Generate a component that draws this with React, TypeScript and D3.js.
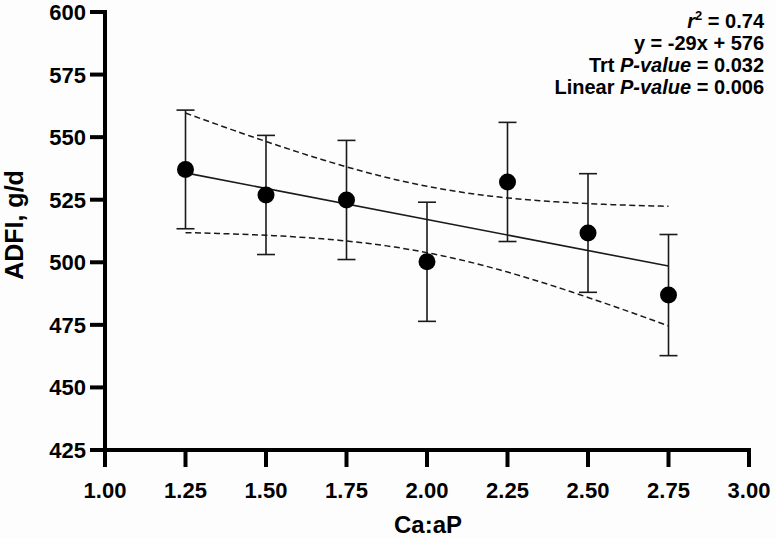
import React from "react";
import * as d3 from "d3";

const ratios = [1.25, 1.5, 1.75, 2.0, 2.25, 2.5, 2.75];
const adfiMean = [537.1, 526.9, 524.9, 500.2, 532.1, 511.7, 486.9];
const adfiSem = [23.7, 23.8, 23.8, 23.8, 23.8, 23.7, 24.2];
const xTicks = [1.0, 1.25, 1.5, 1.75, 2.0, 2.25, 2.5, 2.75, 3.0];
const yTicks = [425, 450, 475, 500, 525, 550, 575, 600];
const tCrit = 2.571; // t(0.975, df = 5)

const W = 776;
const H = 539;
const FONT = "'Liberation Sans', Arial, Helvetica, sans-serif";

export default function App() {
  const x = d3.scaleLinear().domain([1.0, 3.0]).range([105, 749]);
  const y = d3.scaleLinear().domain([425, 600]).range([450, 12]);

  // least-squares fit and 95% confidence band
  const n = ratios.length;
  const mx = d3.mean(ratios) as number;
  const my = d3.mean(adfiMean) as number;
  const sxx = d3.sum(ratios, (v) => (v - mx) ** 2);
  const sxy = d3.sum(ratios.map((v, i) => (v - mx) * (adfiMean[i] - my)));
  const slope = sxy / sxx;
  const icpt = my - slope * mx;
  const sse = d3.sum(ratios.map((v, i) => (adfiMean[i] - (icpt + slope * v)) ** 2));
  const s = Math.sqrt(sse / (n - 2));
  const xs = d3.range(0, 61).map((i) => ratios[0] + (i / 60) * (ratios[n - 1] - ratios[0]));
  const band = xs.map((v) => {
    const f = icpt + slope * v;
    const hw = tCrit * s * Math.sqrt(1 / n + (v - mx) ** 2 / sxx);
    return { v, f, lo: f - hw, hi: f + hw };
  });
  const lineHi = d3.line<any>().x((d) => x(d.v)).y((d) => y(d.hi));
  const lineLo = d3.line<any>().x((d) => x(d.v)).y((d) => y(d.lo));
  const x0 = ratios[0];
  const x1 = ratios[n - 1];

  const ink = "#1a1a1a";

  return (
    <svg
      width={W}
      height={H}
      style={{ position: "absolute", left: 0, top: 0, background: "#fdfdfd" }}
      fontFamily={FONT}
    >
      {/* confidence band */}
      <path d={lineHi(band) as string} fill="none" stroke={ink} strokeWidth={1.5} strokeDasharray="6,3.5" />
      <path d={lineLo(band) as string} fill="none" stroke={ink} strokeWidth={1.5} strokeDasharray="6,3.5" />
      {/* regression line */}
      <line
        x1={x(x0)}
        x2={x(x1)}
        y1={y(icpt + slope * x0)}
        y2={y(icpt + slope * x1)}
        stroke={ink}
        strokeWidth={1.6}
      />
      {/* error bars */}
      {ratios.map((r, i) => (
        <g key={"e" + i} stroke={ink} strokeWidth={1.6}>
          <line x1={x(r)} x2={x(r)} y1={y(adfiMean[i] + adfiSem[i])} y2={y(adfiMean[i] - adfiSem[i])} />
          <line x1={x(r) - 9} x2={x(r) + 9} y1={y(adfiMean[i] + adfiSem[i])} y2={y(adfiMean[i] + adfiSem[i])} />
          <line x1={x(r) - 9} x2={x(r) + 9} y1={y(adfiMean[i] - adfiSem[i])} y2={y(adfiMean[i] - adfiSem[i])} />
        </g>
      ))}
      {ratios.map((r, i) => (
        <circle key={"c" + i} cx={x(r)} cy={y(adfiMean[i])} r={8.5} fill="#000" />
      ))}

      {/* axes */}
      <g stroke="#000" strokeWidth={4} strokeLinecap="square">
        <line x1={105} x2={105} y1={12} y2={450} />
        <line x1={105} x2={749} y1={450} y2={450} />
      </g>
      {yTicks.map((t) => (
        <g key={"yt" + t}>
          <line x1={90} x2={105} y1={y(t)} y2={y(t)} stroke="#000" strokeWidth={4} />
          <text x={86} y={y(t) + 8} textAnchor="end" fontSize={22} fontWeight="bold" fill="#000">
            {t}
          </text>
        </g>
      ))}
      {xTicks.map((t) => (
        <g key={"xt" + t}>
          <line x1={x(t)} x2={x(t)} y1={450} y2={467} stroke="#000" strokeWidth={4} />
          <text x={x(t)} y={498} textAnchor="middle" fontSize={22} fontWeight="bold" fill="#000">
            {t.toFixed(2)}
          </text>
        </g>
      ))}
      <text x={428} y={533} textAnchor="middle" fontSize={24} fontWeight="bold" fill="#000">
        Ca:aP
      </text>
      <text
        transform="translate(23,225) rotate(-90)"
        textAnchor="middle"
        fontSize={25}
        fontWeight="bold"
        fill="#000"
      >
        ADFI, g/d
      </text>

      {/* annotation */}
      <g fontSize={20} fontWeight="bold" fill="#000" textAnchor="end">
        <text x={764} y={28}>
          <tspan fontStyle="italic">r</tspan>
          <tspan fontSize={13} dy={-8}>2</tspan>
          <tspan dy={8}> = 0.74</tspan>
        </text>
        <text x={764} y={50}>y = -29x + 576</text>
        <text x={764} y={72}>
          Trt <tspan fontStyle="italic">P-value</tspan> = 0.032
        </text>
        <text x={764} y={94}>
          Linear <tspan fontStyle="italic">P-value</tspan> = 0.006
        </text>
      </g>
    </svg>
  );
}
